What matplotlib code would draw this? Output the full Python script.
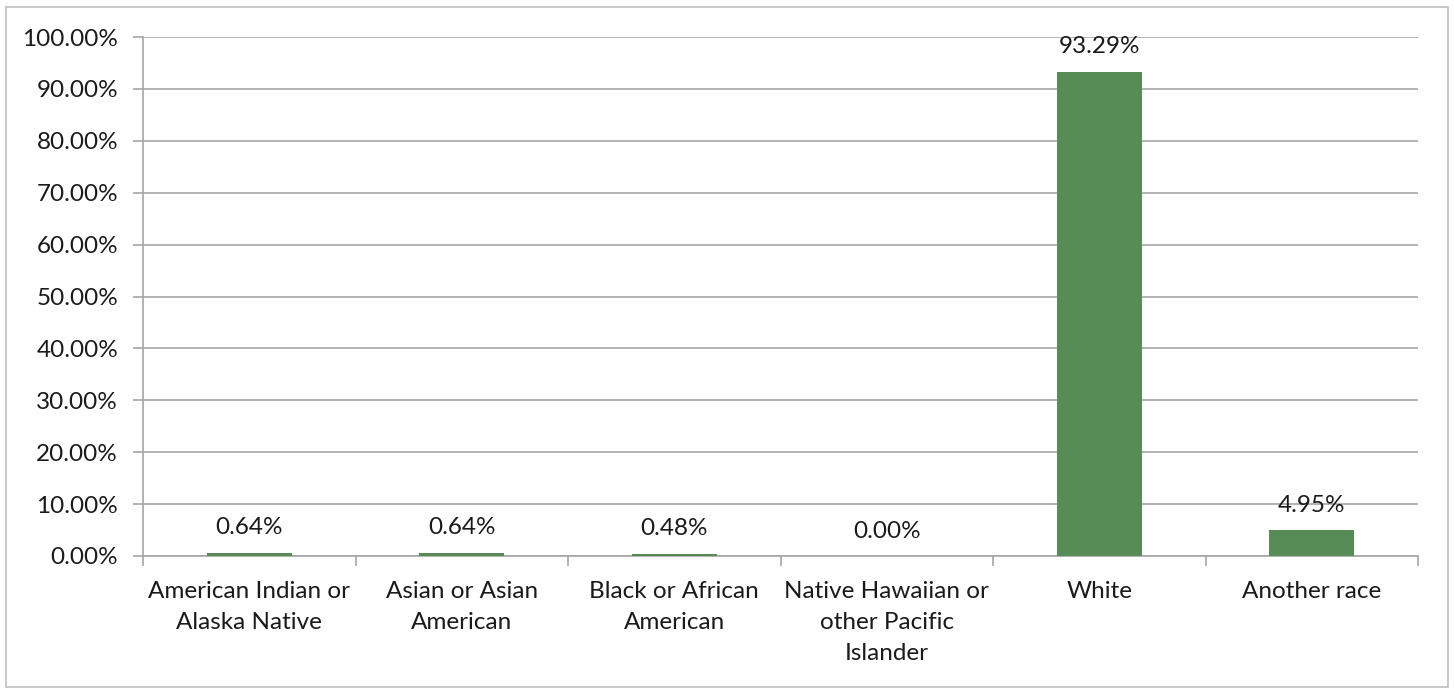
import matplotlib
matplotlib.use("Agg")
import matplotlib.pyplot as plt
from matplotlib.patches import Rectangle
from matplotlib.ticker import FuncFormatter, FixedLocator, NullFormatter

categories = ["American Indian or\nAlaska Native", "Asian or Asian\nAmerican",
              "Black or African\nAmerican", "Native Hawaiian or\nother Pacific\nIslander",
              "White", "Another race"]
values = [0.64, 0.64, 0.48, 0.00, 93.29, 4.95]
labels = ["0.64%", "0.64%", "0.48%", "0.00%", "93.29%", "4.95%"]
yticks = list(range(0, 101, 10))

plt.rcParams['font.family'] = ['Lato', 'DejaVu Sans']

W, H = 1454, 688
fig = plt.figure(figsize=(W / 100, H / 100), dpi=100)
ax = fig.add_axes([143 / W, 1 - 556 / H, (1418 - 143) / W, (556 - 37) / H])

grid_c = "#a6a6a6"
bar_c = "#578c57"
fs = 17.5
x = list(range(len(categories)))
ax.bar(x, values, width=0.4, color=bar_c, zorder=3)
ax.set_xlim(-0.5, len(categories) - 0.5)
ax.set_ylim(0, 100)
ax.set_yticks(yticks)
ax.yaxis.set_major_formatter(FuncFormatter(lambda v, p: f"{v:.2f}%"))
ax.yaxis.grid(True, color=grid_c, linewidth=1.2, zorder=0)
ax.set_axisbelow(True)

ax.xaxis.set_major_locator(FixedLocator([i - 0.5 for i in range(len(categories) + 1)]))
ax.xaxis.set_major_formatter(NullFormatter())
ax.xaxis.set_minor_locator(FixedLocator(x))
ax.set_xticklabels(categories, minor=True)
ax.tick_params(axis='x', which='minor', length=0, pad=18, labelsize=fs, labelcolor="#1a1a1a")
ax.tick_params(axis='x', which='major', length=7, color=grid_c, width=1.2, direction='out')
ax.tick_params(axis='y', length=7, color=grid_c, width=1.2, labelsize=fs, pad=11,
               labelcolor="#1a1a1a")
for lab in ax.get_xticklabels(minor=True):
    lab.set_linespacing(1.6)

for s in ["top", "right"]:
    ax.spines[s].set_visible(False)
for s in ["left", "bottom"]:
    ax.spines[s].set_color(grid_c)
    ax.spines[s].set_linewidth(1.2)

for xi, v, t in zip(x, values, labels):
    ax.annotate(t, (xi, v), xytext=(0, 18), textcoords="offset points",
                ha="center", va="center", fontsize=fs, color="#1a1a1a")

fig.patches.append(Rectangle((6 / W, 1 - 687 / H), (1448 - 6) / W, (687 - 7) / H,
                             transform=fig.transFigure, fill=False,
                             edgecolor="#bfbfbf", linewidth=1.2))

fig.savefig("out.png", dpi=100)
